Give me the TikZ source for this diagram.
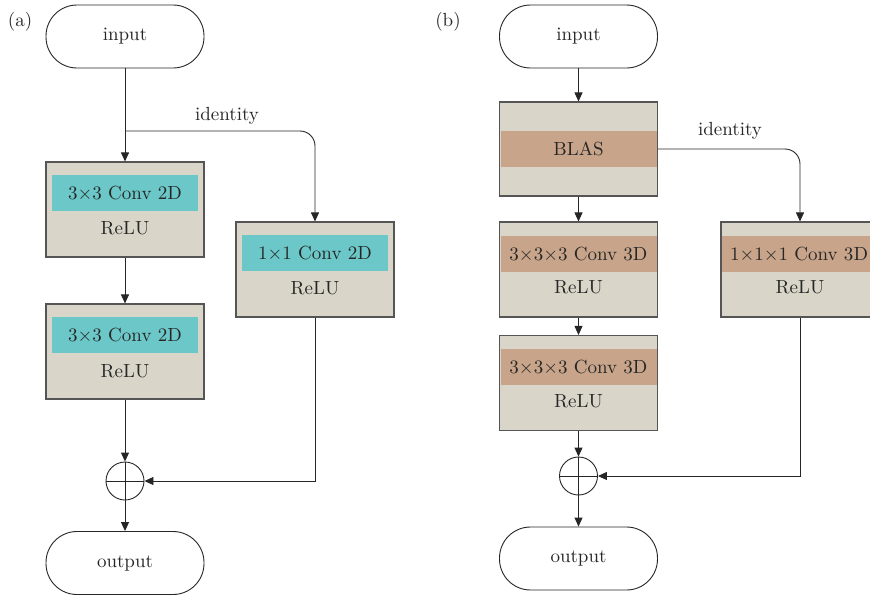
\documentclass[tikz,border=0pt]{standalone}
\usepackage{fontspec}
\setmainfont{lmroman10-regular}[Extension=.otf]
\usetikzlibrary{arrows.meta}
\definecolor{boxfill}{HTML}{D9D6C9}
\definecolor{cyanband}{HTML}{6CC8C8}
\definecolor{tanband}{HTML}{C8A58A}
\definecolor{edgecol}{HTML}{555555}
\definecolor{txt}{HTML}{262626}
\begin{document}
\begin{tikzpicture}[x=1pt,y=-1pt, font=\fontsize{19}{23}\selectfont, text=txt,
  blk/.style={draw=edgecol, line width=1.1pt, fill=boxfill, minimum width=158pt, minimum height=95pt, inner sep=0pt},
  cband/.style={fill=cyanband, minimum width=146pt, minimum height=36pt, inner sep=0pt},
  tband/.style={fill=tanband, minimum width=156pt, minimum height=36pt, inner sep=0pt},
  lbl/.style={inner sep=0pt},
  capsule/.style={draw=txt, line width=0.9pt, fill=white, minimum width=158pt, minimum height=63pt, rounded corners=31pt, inner sep=0pt},
  sumnode/.style={draw=txt, line width=0.9pt, circle, minimum size=38pt, inner sep=0pt},
  conn/.style={draw=txt, line width=0.9pt, -{Triangle[length=9pt,width=8pt]}},
  plain/.style={draw=txt, line width=0.9pt}]
\useasboundingbox (0,0) rectangle (870,595);
\clip (0,0) rectangle (870,595);

% ---------------- panel (a) ----------------
\node[lbl] (la) at (20,22) {(a)};
\node[capsule] (ina) at (125,36.5) {input};
\node[blk] (a1) at (125,209.5) {};
\node[cband] (a1b) at (125,193) {3×3 Conv 2D};
\node[lbl] (a1r) at (125,228) {ReLU};
\node[blk] (a2) at (125,351.5) {};
\node[cband] (a2b) at (125,335) {3×3 Conv 2D};
\node[lbl] (a2r) at (125,371) {ReLU};
\node[blk] (a3) at (315,269.5) {};
\node[cband] (a3b) at (315,253) {1×1 Conv 2D};
\node[lbl] (a3r) at (315,288) {ReLU};
\node[sumnode] (suma) at (125,481) {};
\node[capsule] (outa) at (125,563) {output};
\node[lbl] (ida) at (227,116) {identity};
\coordinate (bra) at (125,131);

\draw[conn] (ina) -- (a1);
\draw[conn, rounded corners=15pt] (bra) -| (a3.north);
\draw[conn] (a1) -- (a2);
\draw[conn] (a2) -- (suma);
\draw[conn] (a3.south) |- (suma.east);
\draw[plain] (suma.north) -- (suma.south) (suma.west) -- (suma.east);
\draw[conn] (suma) -- (outa);

% ---------------- panel (b) ----------------
\node[lbl] (lb) at (448,22) {(b)};
\node[capsule] (inb) at (578.5,36.5) {input};
\node[blk, minimum height=94pt] (b0) at (578.5,149) {};
\node[tband] (b0b) at (578.5,149) {BLAS};
\node[blk] (b1) at (578.5,269.5) {};
\node[tband] (b1b) at (578.5,254) {3×3×3 Conv 3D};
\node[lbl] (b1r) at (578.5,287) {ReLU};
\node[blk] (b2) at (578.5,383) {};
\node[tband] (b2b) at (578.5,367) {3×3×3 Conv 3D};
\node[lbl] (b2r) at (578.5,401) {ReLU};
\node[blk] (b3) at (800,269.5) {};
\node[tband] (b3b) at (800,254) {};
\node[lbl] (b3t) at (799,254) {1×1×1 Conv 3D};
\node[lbl] (b3r) at (800,287) {ReLU};
\node[sumnode] (sumb) at (578.5,476) {};
\node[capsule] (outb) at (578.5,558.5) {output};
\node[lbl] (idb) at (730,131) {identity};

\draw[conn] (inb) -- (b0);
\draw[conn, rounded corners=15pt] (b0.east) -| (b3.north);
\draw[conn] (b0) -- (b1);
\draw[conn] (b1) -- (b2);
\draw[conn] (b2) -- (sumb);
\draw[conn] (b3.south) |- (sumb.east);
\draw[plain] (sumb.north) -- (sumb.south) (sumb.west) -- (sumb.east);
\draw[conn] (sumb) -- (outb);
\end{tikzpicture}
\end{document}
